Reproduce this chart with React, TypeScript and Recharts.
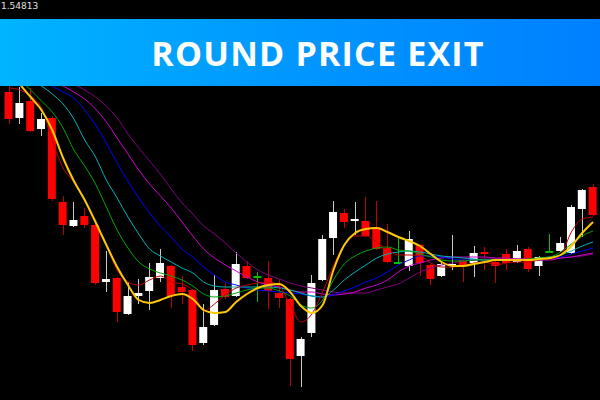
import React from "react";
import { ComposedChart, Bar, Line, XAxis, YAxis } from "recharts";

// OHLC, one entry per bar (EURUSD-style quotes)
const opens = [
  1.5408, 1.5382, 1.5399, 1.5371, 1.5382, 1.5298, 1.5274, 1.5284, 1.5275, 1.5218,
  1.5222, 1.5186, 1.5204, 1.5209, 1.5222, 1.5234, 1.5213, 1.5210, 1.5157, 1.5175,
  1.5211, 1.5204, 1.5234, 1.5223, 1.5222, 1.5207, 1.5201, 1.5144, 1.5167, 1.5220,
  1.5262, 1.5287, 1.5279, 1.5279, 1.5273, 1.5252, 1.5237, 1.5234, 1.5255, 1.5235,
  1.5224, 1.5234, 1.5240, 1.5237, 1.5248, 1.5238, 1.5246, 1.5238, 1.5251, 1.5234,
  1.5248, 1.5249, 1.5247, 1.5291, 1.5313,
];
const highs = [
  1.5415, 1.5413, 1.5412, 1.5387, 1.5384, 1.5304, 1.5298, 1.5292, 1.5277, 1.5249,
  1.5223, 1.5218, 1.5221, 1.5237, 1.5251, 1.5235, 1.5224, 1.5211, 1.5196, 1.5225,
  1.5217, 1.5248, 1.5239, 1.5228, 1.5239, 1.5221, 1.5202, 1.5163, 1.5225, 1.5265,
  1.5299, 1.5291, 1.5298, 1.5303, 1.5299, 1.5276, 1.5262, 1.5269, 1.5256, 1.5236,
  1.5237, 1.5265, 1.5241, 1.5254, 1.5253, 1.5239, 1.5251, 1.5255, 1.5253, 1.5244,
  1.5266, 1.5263, 1.5295, 1.5311, 1.5316,
];
const lows = [
  1.5376, 1.5376, 1.5368, 1.5364, 1.5299, 1.5265, 1.5273, 1.5272, 1.5215, 1.5208,
  1.5178, 1.5185, 1.5196, 1.5190, 1.5218, 1.5192, 1.5196, 1.5149, 1.5155, 1.5174,
  1.5201, 1.5203, 1.5221, 1.5198, 1.5191, 1.5192, 1.5114, 1.5113, 1.5163, 1.5219,
  1.5245, 1.5272, 1.5265, 1.5263, 1.5250, 1.5237, 1.5236, 1.5229, 1.5224, 1.5215,
  1.5223, 1.5230, 1.5218, 1.5223, 1.5230, 1.5217, 1.5230, 1.5237, 1.5228, 1.5224,
  1.5247, 1.5248, 1.5246, 1.5263, 1.5284,
];
const closes = [
  1.5381, 1.5397, 1.5369, 1.5381, 1.5301, 1.5275, 1.5280, 1.5275, 1.5217, 1.5221,
  1.5188, 1.5204, 1.5207, 1.5223, 1.5237, 1.5204, 1.5208, 1.5155, 1.5173, 1.5210,
  1.5203, 1.5236, 1.5222, 1.5223, 1.5209, 1.5202, 1.5141, 1.5161, 1.5217, 1.5261,
  1.5288, 1.5278, 1.5281, 1.5264, 1.5251, 1.5238, 1.5237, 1.5261, 1.5237, 1.5221,
  1.5236, 1.5236, 1.5235, 1.5247, 1.5247, 1.5234, 1.5237, 1.5249, 1.5231, 1.5243,
  1.5248, 1.5257, 1.5293, 1.5310, 1.5285,
];

// moving-average ribbon, fastest to slowest
const maRed = [
  1.5412, 1.5410, 1.5404, 1.5392, 1.5360, 1.5332, 1.5318, 1.5300, 1.5278, 1.5255,
  1.5230, 1.5218, 1.5215, 1.5220, 1.5224, 1.5218, 1.5216, 1.5209, 1.5189, 1.5196,
  1.5205, 1.5212, 1.5215, 1.5217, 1.5218, 1.5214, 1.5195, 1.5178, 1.5186, 1.5208,
  1.5234, 1.5255, 1.5264, 1.5264, 1.5258, 1.5250, 1.5245, 1.5245, 1.5244, 1.5237,
  1.5233, 1.5233, 1.5234, 1.5237, 1.5238, 1.5235, 1.5237, 1.5238, 1.5238, 1.5240,
  1.5241, 1.5245, 1.5268, 1.5281, 1.5283,
];
const maYellow = [
  1.5434, 1.5416, 1.5403, 1.5390, 1.5370, 1.5342, 1.5319, 1.5300, 1.5278, 1.5255,
  1.5233, 1.5215, 1.5200, 1.5197, 1.5200, 1.5204, 1.5206, 1.5201, 1.5190, 1.5187,
  1.5188, 1.5198, 1.5206, 1.5212, 1.5215, 1.5216, 1.5208, 1.5194, 1.5187, 1.5195,
  1.5230, 1.5255, 1.5267, 1.5271, 1.5272, 1.5268, 1.5263, 1.5259, 1.5254, 1.5246,
  1.5238, 1.5234, 1.5234, 1.5236, 1.5238, 1.5240, 1.5240, 1.5240, 1.5240, 1.5241,
  1.5242, 1.5245, 1.5254, 1.5267, 1.5278,
];
const maGreen = [
  1.5430, 1.5420, 1.5410, 1.5399, 1.5388, 1.5372, 1.5350, 1.5334, 1.5316, 1.5293,
  1.5270, 1.5252, 1.5238, 1.5231, 1.5227, 1.5224, 1.5220, 1.5214, 1.5206, 1.5203,
  1.5204, 1.5207, 1.5210, 1.5212, 1.5212, 1.5209, 1.5204, 1.5195, 1.5192, 1.5200,
  1.5220, 1.5236, 1.5244, 1.5249, 1.5252, 1.5253, 1.5250, 1.5249, 1.5246, 1.5243,
  1.5240, 1.5239, 1.5239, 1.5240, 1.5240, 1.5240, 1.5240, 1.5240, 1.5241, 1.5242,
  1.5243, 1.5248, 1.5256, 1.5264, 1.5269,
];
const maCyan = [
  1.5432, 1.5426, 1.5420, 1.5414, 1.5406, 1.5396, 1.5381, 1.5360, 1.5343, 1.5320,
  1.5302, 1.5283, 1.5266, 1.5251, 1.5244, 1.5238, 1.5232, 1.5227, 1.5218, 1.5214,
  1.5213, 1.5213, 1.5213, 1.5213, 1.5213, 1.5212, 1.5210, 1.5207, 1.5204, 1.5203,
  1.5210, 1.5220, 1.5228, 1.5235, 1.5242, 1.5246, 1.5248, 1.5249, 1.5248, 1.5246,
  1.5244, 1.5243, 1.5242, 1.5241, 1.5240, 1.5240, 1.5240, 1.5240, 1.5240, 1.5242,
  1.5243, 1.5245, 1.5249, 1.5254, 1.5258,
];
const maBlue = [
  1.5440, 1.5432, 1.5426, 1.5420, 1.5414, 1.5408, 1.5402, 1.5390, 1.5375, 1.5357,
  1.5337, 1.5319, 1.5302, 1.5287, 1.5274, 1.5263, 1.5251, 1.5243, 1.5233, 1.5225,
  1.5218, 1.5215, 1.5212, 1.5210, 1.5209, 1.5208, 1.5207, 1.5206, 1.5204, 1.5203,
  1.5205, 1.5209, 1.5213, 1.5218, 1.5222, 1.5228, 1.5235, 1.5240, 1.5244, 1.5244,
  1.5243, 1.5241, 1.5240, 1.5240, 1.5240, 1.5240, 1.5240, 1.5240, 1.5240, 1.5240,
  1.5241, 1.5243, 1.5246, 1.5249, 1.5252,
];
const maMagenta = [
  1.5445, 1.5438, 1.5432, 1.5426, 1.5420, 1.5414, 1.5408, 1.5401, 1.5391, 1.5378,
  1.5362, 1.5346, 1.5330, 1.5316, 1.5304, 1.5292, 1.5278, 1.5264, 1.5251, 1.5242,
  1.5235, 1.5229, 1.5223, 1.5218, 1.5215, 1.5213, 1.5210, 1.5208, 1.5208, 1.5206,
  1.5205, 1.5206, 1.5208, 1.5212, 1.5215, 1.5220, 1.5228, 1.5234, 1.5237, 1.5240,
  1.5242, 1.5243, 1.5243, 1.5243, 1.5243, 1.5242, 1.5242, 1.5241, 1.5241, 1.5240,
  1.5240, 1.5242, 1.5243, 1.5245, 1.5247,
];
const maPurple = [
  1.5460, 1.5450, 1.5442, 1.5434, 1.5428, 1.5422, 1.5416, 1.5410, 1.5403, 1.5394,
  1.5382, 1.5366, 1.5352, 1.5339, 1.5326, 1.5311, 1.5297, 1.5286, 1.5274, 1.5266,
  1.5257, 1.5247, 1.5238, 1.5230, 1.5225, 1.5221, 1.5217, 1.5214, 1.5212, 1.5210,
  1.5208, 1.5207, 1.5207, 1.5207, 1.5210, 1.5213, 1.5216, 1.5222, 1.5228, 1.5232,
  1.5235, 1.5237, 1.5239, 1.5240, 1.5241, 1.5241, 1.5241, 1.5241, 1.5241, 1.5241,
  1.5241, 1.5242, 1.5243, 1.5244, 1.5246,
];

const topPrice = "1.54813";

const data = opens.map((o, i) => ({
  i,
  open: o,
  high: highs[i],
  low: lows[i],
  close: closes[i],
  range: [lows[i], highs[i]],
  red: maRed[i],
  yellow: maYellow[i],
  green: maGreen[i],
  cyan: maCyan[i],
  blue: maBlue[i],
  magenta: maMagenta[i],
  purple: maPurple[i],
}));

const Candle = (props: any) => {
  const { x, y, width, height, payload } = props;
  const { open, close, high, low } = payload;
  const h = Math.abs(height);
  const top = height < 0 ? y + height : y;
  const k = h / (high - low);
  const cx = Math.round(x + width / 2) + 0.5;
  const bodyTop = top + (high - Math.max(open, close)) * k;
  const bodyBot = top + (high - Math.min(open, close)) * k;
  if (open === close) {
    return (
      <g>
        <line x1={cx} x2={cx} y1={top} y2={top + h} stroke="#00c000" />
        <rect x={x} y={bodyTop - 1} width={width} height={2} fill="#00c000" />
      </g>
    );
  }
  const bull = close > open;
  return (
    <g>
      <line
        x1={cx}
        x2={cx}
        y1={top}
        y2={top + h}
        stroke={bull ? "#c8c8c8" : "#c00000"}
      />
      <rect
        x={x}
        y={bodyTop}
        width={width}
        height={Math.max(bodyBot - bodyTop, 2)}
        fill={bull ? "#ffffff" : "#ff0000"}
      />
    </g>
  );
};

const lines = [
  { key: "purple", color: "#800080", w: 1 },
  { key: "magenta", color: "#d000d0", w: 1 },
  { key: "blue", color: "#0000ff", w: 1 },
  { key: "cyan", color: "#00b4b4", w: 1 },
  { key: "green", color: "#00a800", w: 1 },
  { key: "red", color: "#c00000", w: 1 },
  { key: "yellow", color: "#ffc800", w: 2 },
];

export default function App() {
  return (
    <div
      style={{
        position: "fixed",
        left: 0,
        top: 0,
        width: 600,
        height: 400,
        background: "#000",
        overflow: "hidden",
      }}
    >
      <ComposedChart
        width={600}
        height={400}
        data={data}
        margin={{ top: 0, right: 0, bottom: 0, left: 0 }}
      >
        <XAxis
          dataKey="i"
          type="number"
          domain={[-0.832, 54.646]}
          hide
        />
        <YAxis type="number" domain={[1.51, 1.55]} hide />
        <Bar
          dataKey="range"
          barSize={8}
          shape={Candle}
          isAnimationActive={false}
        />
        {lines.map((l) => (
          <Line
            key={l.key}
            dataKey={l.key}
            type="monotone"
            stroke={l.color}
            strokeWidth={l.w}
            dot={false}
            activeDot={false}
            isAnimationActive={false}
          />
        ))}
      </ComposedChart>
      <div
        style={{
          position: "absolute",
          left: 1,
          top: 1,
          fontFamily: "DejaVu Sans, sans-serif",
          fontSize: 9,
          lineHeight: "10px",
          color: "#e0e0e0",
        }}
      >
        {topPrice}
      </div>
      <div
        style={{
          position: "absolute",
          left: 0,
          top: 19,
          width: 600,
          height: 67,
          background: "linear-gradient(90deg, #00b4ff 0%, #0096ff 50%, #0080ff 100%)",
        }}
      >
        <div
          style={{
            position: "absolute",
            left: 318,
            top: 0,
            height: 67,
            transform: "translateX(-50%)",
            display: "flex",
            alignItems: "center",
            whiteSpace: "nowrap",
            fontFamily: "'Open Sans', sans-serif",
            fontWeight: 700,
            fontSize: 34,
            letterSpacing: 1.2,
            color: "#ffffff",
          }}
        >
          ROUND PRICE EXIT
        </div>
      </div>
    </div>
  );
}
